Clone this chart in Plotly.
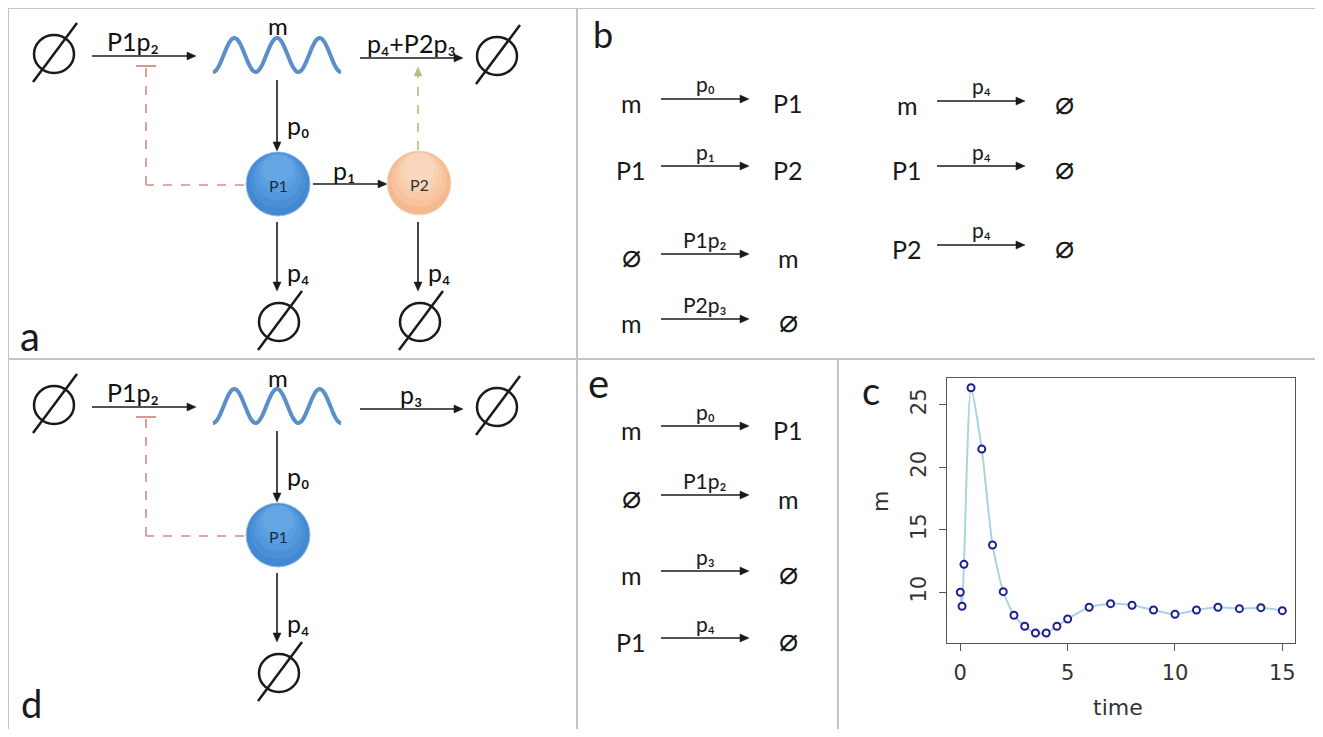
import numpy as np
import plotly.graph_objects as go

# ---------------- data (panel c) ----------------
time = [0, 0.08, 0.17, 0.5, 1, 1.5, 2, 2.5, 3, 3.5, 4, 4.5, 5, 6, 7, 8, 9, 10, 11, 12, 13, 14, 15]
m_values = [10.0, 8.88, 12.24, 26.38, 21.47, 13.79, 10.05, 8.16, 7.28, 6.74, 6.74, 7.28, 7.86,
            8.80, 9.09, 8.96, 8.58, 8.24, 8.58, 8.80, 8.69, 8.77, 8.53]
x_ticks = [0, 5, 10, 15]
y_ticks = [10, 15, 20, 25]

# reaction lists for panels b and e: (left, rate label, right)
reactions_b_left = [("m", "p₀", "P1"), ("P1", "p₁", "P2"), ("∅", "P1p₂", "m"), ("m", "P2p₃", "∅")]
reactions_b_right = [("m", "p₄", "∅"), ("P1", "p₄", "∅"), ("P2", "p₄", "∅")]
reactions_e = [("m", "p₀", "P1"), ("∅", "P1p₂", "m"), ("m", "p₃", "∅"), ("P1", "p₄", "∅")]

# page has an 8px body margin: figure is drawn at (8, 8)
OFF = 8
W, H = 1323 - 2 * OFF, 737 - 2 * OFF
FONT = "Lato, DejaVu Sans, sans-serif"
RFONT = "DejaVu Sans, Verdana, sans-serif"
EFONT = "DejaVu Sans Mono, DejaVu Sans, sans-serif"

def px(x):
    return (x - OFF) / W

def py(y):
    return 1 - (y - OFF) / H

shapes = []
annotations = []

def text(x, y, s, size, color="#111111", family=FONT, xanchor="center", yanchor="middle", angle=0):
    annotations.append(dict(x=px(x), y=py(y), xref="paper", yref="paper", text=s, showarrow=False,
                            font=dict(size=size, color=color, family=family),
                            xanchor=xanchor, yanchor=yanchor, textangle=angle))

def line(x0, y0, x1, y1, color="#1a1a1a", width=1.5, dash="solid"):
    shapes.append(dict(type="line", xref="paper", yref="paper", x0=px(x0), y0=py(y0), x1=px(x1), y1=py(y1),
                       line=dict(color=color, width=width, dash=dash), layer="above"))

def head(x0, y0, x1, y1, color, hl=9, hw=4):
    dx, dy = x1 - x0, y1 - y0
    n = (dx * dx + dy * dy) ** 0.5
    ux, uy = dx / n, dy / n
    bx, by = x1 - hl * ux, y1 - hl * uy
    pts = [(x1, y1), (bx - hw * uy, by + hw * ux), (bx + hw * uy, by - hw * ux)]
    path = "M " + " L ".join(f"{px(a):.5f},{py(b):.5f}" for a, b in pts) + " Z"
    shapes.append(dict(type="path", xref="paper", yref="paper", path=path, fillcolor=color,
                       line=dict(color=color, width=0.5), layer="above"))
    return bx, by

def arrow(x0, y0, x1, y1, color="#1a1a1a", width=1.6, dash="solid"):
    bx, by = head(x0, y0, x1, y1, color)
    line(x0, y0, bx, by, color, width, dash)

def circle(cx, cy, rx, ry, fill, edge, width=1.0):
    shapes.append(dict(type="circle", xref="paper", yref="paper", x0=px(cx - rx), x1=px(cx + rx),
                       y0=py(cy + ry), y1=py(cy - ry), fillcolor=fill, line=dict(color=edge, width=width),
                       layer="above"))

def shaded_node(cx, cy, r, colors, edge):
    # vertical shading: stacked circles, darker at the bottom, lighter at the top
    circle(cx, cy, r, r, colors[0], edge, 1)
    for i, c in enumerate(colors[1:], start=1):
        rr = r * (1 - 0.13 * i)
        circle(cx, cy - (r - rr) * 0.85, rr, rr, c, "rgba(0,0,0,0)", 0)

def empty_set(cx, cy):
    circle(cx, cy, 20, 19, "rgba(0,0,0,0)", "#1a1a1a", 2.5)
    line(cx - 21, cy + 28, cx + 23, cy - 31, "#1a1a1a", 2.5)

def wave(x0, x1, cy, amp, periods, color="#5b8fc9"):
    xs = np.linspace(x0, x1, 200)
    ys = cy + amp * np.cos(2 * np.pi * periods * (xs - x0) / (x1 - x0))
    path = "M " + " L ".join(f"{px(a):.5f},{py(b):.5f}" for a, b in zip(xs, ys))
    shapes.append(dict(type="path", xref="paper", yref="paper", path=path,
                       line=dict(color=color, width=4), layer="above"))

# ---------------- panel borders ----------------
BC = "#c4c4c4"
line(7, 8, 1317, 8, BC, 2)
line(8, 8, 8, 737, BC, 2)
line(1317, 8, 1317, 737, BC, 2)
line(577, 8, 577, 737, BC, 2)
line(8, 359, 1317, 359, BC, 2)
line(838, 359, 838, 737, BC, 2)

BLUE = ["#4388d2", "#4b90d7", "#5398dc", "#5b9fe0", "#63a6e3"]
PEACH = ["#f5b98f", "#f7c29c", "#f8caa8", "#f9d1b3", "#fad7bc"]

# ---------------- panels a and d ----------------
def network(dy, full):
    empty_set(54, 54 + dy)
    arrow(92, 56 + dy, 196, 56 + dy)
    text(133, 41 + dy, "P1p₂", 25)
    wave(213, 341, 55 + dy, 17, 3)
    text(278, 26 + dy, "m", 24)
    arrow(360, 58 + dy, 463, 58 + dy)
    text(411, 43 + dy, "p₄+P2p₃" if full else "p₃", 25)
    empty_set(497, 56 + dy)
    # m -> P1
    arrow(277, 80 + dy, 277, 151 + dy)
    text(285, 125 + dy, "p₀", 25, xanchor="left")
    # P1 node
    shaded_node(278, 184 + dy, 32, BLUE, "#9cc0e6")
    text(278, 185 + dy, "P1", 16, "#1d2a48")
    # repression (red dashed with T bar)
    line(244, 185 + dy, 146, 185 + dy, "#d98a84", 1.6, "dash")
    line(146, 185 + dy, 146, 67 + dy, "#d98a84", 1.6, "dash")
    line(136, 66 + dy, 156, 66 + dy, "#d98a84", 1.8)
    # P1 degradation
    arrow(277, 222 + dy, 277, 291 + dy)
    text(285, 272 + dy, "p₄", 25, xanchor="left")
    empty_set(279, 322 + dy)
    if full:
        arrow(313, 184 + dy, 387, 184 + dy)
        text(344, 170 + dy, "p₁", 25)
        shaded_node(419, 183 + dy, 32, PEACH, "#f6dcc6")
        text(419, 184 + dy, "P2", 16, "#333333")
        arrow(418, 150 + dy, 418, 67 + dy, "#a9c47f", 1.6, "dash")
        arrow(418, 222 + dy, 418, 291 + dy)
        text(426, 272 + dy, "p₄", 25, xanchor="left")
        empty_set(420, 322 + dy)

network(0, True)
network(351, False)
text(30, 336, "a", 40, "#1a1a1a")
text(31, 728, "d", 38, "#1a1a1a", yanchor="bottom")

# ---------------- panels b and e (reaction lists) ----------------
def species(x, y, s):
    if s == "∅":
        text(x, y, s, 32, "#1a1a1a", family=EFONT)
    else:
        text(x, y, s, 25, "#1a1a1a")

def reaction(xl, y, r):
    left, rate, right = r
    ya = y - 4
    species(xl, y, left)
    arrow(xl + 30, ya, xl + 118, ya, width=1.5)
    text(xl + 74, ya - 15, rate, 21, "#1a1a1a")
    species(xl + 157, y, right)

text(603, 10, "b", 36, "#1a1a1a", yanchor="top")
for r, y in zip(reactions_b_left, [103, 170, 258, 323]):
    reaction(631, y, r)
for r, y in zip(reactions_b_right, [105, 170, 249]):
    reaction(907, y, r)

text(598, 383, "e", 40, "#1a1a1a")
for r, y in zip(reactions_e, [430, 499, 575, 642]):
    reaction(631, y, r)

# ---------------- panel c (time series) ----------------
text(871, 390, "c", 38, "#1a1a1a")

fig = go.Figure()
fig.add_trace(go.Scatter(
    x=time, y=m_values, mode="lines+markers", line=dict(color="#a8d4e2", width=2, shape="spline", smoothing=0.6),
    marker=dict(symbol="circle", size=7, color="white", line=dict(color="#1d1f91", width=2)),
    xaxis="x", yaxis="y", showlegend=False, hoverinfo="skip"))

ax_common = dict(showgrid=False, zeroline=False, showline=True, mirror=True, linecolor="#555555", linewidth=1.3,
                 ticks="outside", ticklen=7, tickwidth=1.2, tickcolor="#555555",
                 tickfont=dict(family=RFONT, size=21, color="#333333"))

fig.update_layout(
    width=W, height=H, margin=dict(l=0, r=0, t=0, b=0),
    paper_bgcolor="white", plot_bgcolor="white",
    xaxis=dict(domain=[px(947), px(1295)], range=[-0.62, 15.59], tickvals=x_ticks, ticklabelstandoff=4, **ax_common),
    yaxis=dict(domain=[py(643), py(378)], range=[5.94, 27.16], tickvals=y_ticks, tickangle=-90,
               ticklabelstandoff=4, **ax_common),
    shapes=shapes, annotations=annotations,
)
fig.add_annotation(x=px(1118), y=py(707), xref="paper", yref="paper", text="time", showarrow=False,
                   font=dict(family=RFONT, size=22, color="#333333"), xanchor="center", yanchor="middle")
fig.add_annotation(x=px(880), y=py(502), xref="paper", yref="paper", text="m", showarrow=False, textangle=-90,
                   font=dict(family=RFONT, size=22, color="#333333"), xanchor="center", yanchor="middle")

fig.write_html("out.html")
